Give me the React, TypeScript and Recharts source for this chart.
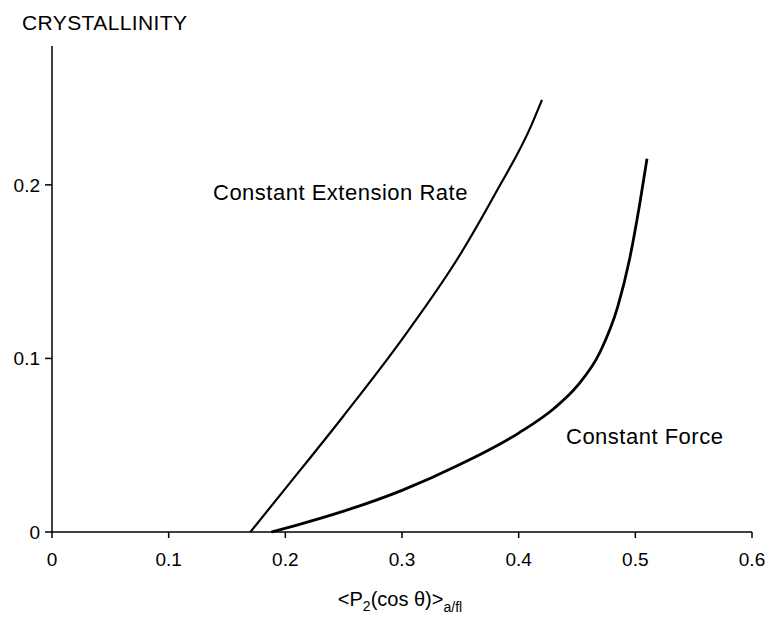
import React from 'react';
import { LineChart, Line, XAxis, YAxis, Label } from 'recharts';

const xTicks = [0, 0.1, 0.2, 0.3, 0.4, 0.5, 0.6];
const yTicks = [0, 0.1, 0.2];

// Constant Extension Rate curve
const extensionRate = [
  { p2: 0.17, cryst: 0 },
  { p2: 0.2, cryst: 0.025 },
  { p2: 0.25, cryst: 0.067 },
  { p2: 0.3, cryst: 0.111 },
  { p2: 0.35, cryst: 0.16 },
  { p2: 0.38, cryst: 0.195 },
  { p2: 0.41, cryst: 0.233 },
  { p2: 0.42, cryst: 0.249 },
];

// Constant Force curve
const constantForce = [
  { p2: 0.188, cryst: 0 },
  { p2: 0.21, cryst: 0.004 },
  { p2: 0.25, cryst: 0.012 },
  { p2: 0.3, cryst: 0.024 },
  { p2: 0.35, cryst: 0.039 },
  { p2: 0.4, cryst: 0.057 },
  { p2: 0.43, cryst: 0.071 },
  { p2: 0.45, cryst: 0.084 },
  { p2: 0.47, cryst: 0.104 },
  { p2: 0.485, cryst: 0.13 },
  { p2: 0.495, cryst: 0.157 },
  { p2: 0.504, cryst: 0.19 },
  { p2: 0.51, cryst: 0.215 },
];

const font = '"Liberation Sans", Arial, sans-serif';

const XTitle = () => (
  <text x={400} y={606} textAnchor="middle" fontFamily={font} fontSize={20} fill="#000">
    {'<P'}
    <tspan fontSize={14} dy={5}>2</tspan>
    <tspan dy={-5}>(cos θ)&gt;</tspan>
    <tspan fontSize={14} dy={6}>a/fl</tspan>
  </text>
);

const YTitle = () => (
  <text x={22} y={30} fontFamily={font} fontSize={21} letterSpacing={0.4} fill="#000">
    CRYSTALLINITY
  </text>
);

const App = () => {
  return (
    <div style={{ position: 'absolute', left: 0, top: 0, width: 767, height: 618, background: '#fff', fontFamily: font }}>
      <LineChart width={767} height={618} margin={{ top: 46, right: 15, bottom: 56, left: 0 }}>
        <XAxis
          dataKey="p2"
          type="number"
          domain={[0, 0.6]}
          ticks={xTicks}
          height={30}
          tickSize={6}
          tickMargin={15}
          stroke="#000"
          strokeWidth={1.5}
          tick={{ fill: '#000', fontSize: 19, fontFamily: font }}
          tickFormatter={(v: number) => String(v)}
        >
          <Label content={<XTitle />} />
        </XAxis>
        <YAxis
          dataKey="cryst"
          type="number"
          domain={[0, 0.28]}
          ticks={yTicks}
          width={52}
          tickSize={7}
          tickMargin={5}
          stroke="#000"
          strokeWidth={1.5}
          tick={{ fill: '#000', fontSize: 19, fontFamily: font }}
          tickFormatter={(v: number) => String(v)}
        >
          <Label content={<YTitle />} />
        </YAxis>
        <Line
          data={extensionRate}
          dataKey="cryst"
          type="monotone"
          stroke="#000"
          strokeWidth={2.2}
          dot={false}
          isAnimationActive={false}
        />
        <Line
          data={constantForce}
          dataKey="cryst"
          type="monotone"
          stroke="#000"
          strokeWidth={2.8}
          dot={false}
          isAnimationActive={false}
        />
      </LineChart>
      <div style={{ position: 'absolute', left: 213, top: 180, fontSize: 22, letterSpacing: 0.5, color: '#000', whiteSpace: 'nowrap' }}>
        Constant Extension Rate
      </div>
      <div style={{ position: 'absolute', left: 566, top: 424, fontSize: 22, letterSpacing: 0.5, color: '#000', whiteSpace: 'nowrap' }}>
        Constant Force
      </div>
    </div>
  );
};

export default App;
